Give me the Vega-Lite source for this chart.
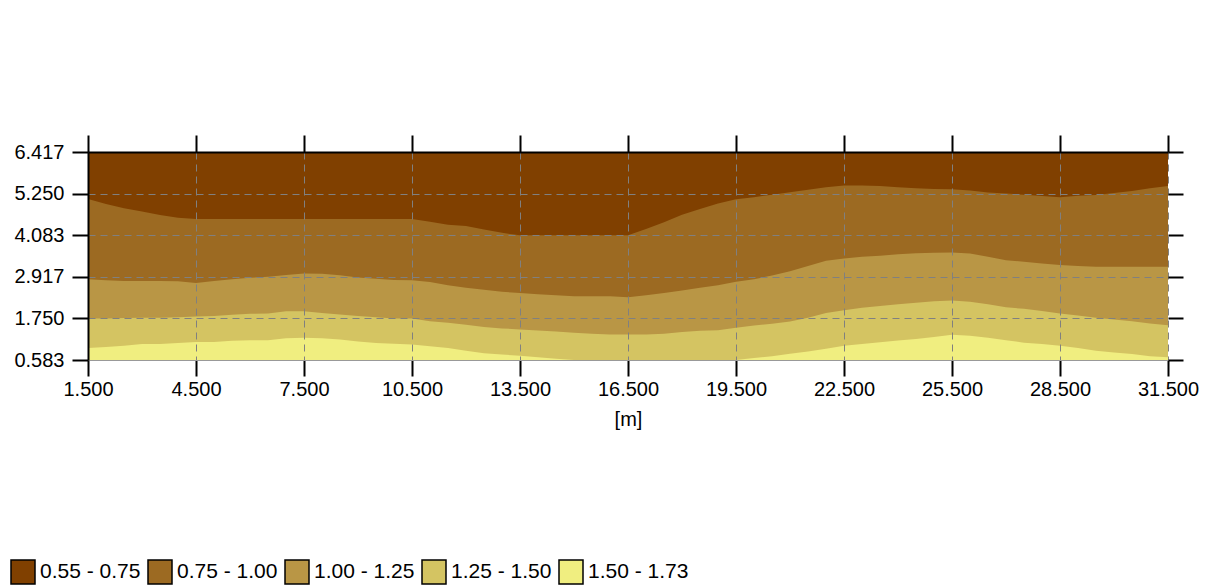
{
  "$schema": "https://vega.github.io/schema/vega-lite/v6.json",
  "width": 1080,
  "height": 208,
  "autosize": {"type": "none"},
  "padding": {"left": 88, "top": 152, "right": 40, "bottom": 227},
  "background": "white",
  "config": {
    "view": {"stroke": null},
    "font": "Liberation Sans",
    "axis": {"labelFont": "Liberation Sans", "titleFont": "Liberation Sans"}
  },
  "data": {
    "values": [
      {"x": 1.5, "b1": 5.10, "b2": 2.85, "b3": 1.75, "b4": 0.92},
      {"x": 2.0, "b1": 4.96, "b2": 2.82, "b3": 1.75, "b4": 0.95},
      {"x": 2.5, "b1": 4.84, "b2": 2.80, "b3": 1.76, "b4": 0.98},
      {"x": 3.0, "b1": 4.75, "b2": 2.80, "b3": 1.77, "b4": 1.03},
      {"x": 3.5, "b1": 4.65, "b2": 2.80, "b3": 1.77, "b4": 1.03},
      {"x": 4.0, "b1": 4.57, "b2": 2.79, "b3": 1.78, "b4": 1.06},
      {"x": 4.5, "b1": 4.54, "b2": 2.74, "b3": 1.80, "b4": 1.09},
      {"x": 5.0, "b1": 4.54, "b2": 2.80, "b3": 1.82, "b4": 1.09},
      {"x": 5.5, "b1": 4.54, "b2": 2.85, "b3": 1.85, "b4": 1.12},
      {"x": 6.0, "b1": 4.54, "b2": 2.89, "b3": 1.88, "b4": 1.14},
      {"x": 6.5, "b1": 4.54, "b2": 2.92, "b3": 1.89, "b4": 1.14},
      {"x": 7.0, "b1": 4.54, "b2": 2.97, "b3": 1.95, "b4": 1.19},
      {"x": 7.5, "b1": 4.54, "b2": 3.01, "b3": 1.95, "b4": 1.21},
      {"x": 8.0, "b1": 4.54, "b2": 3.00, "b3": 1.90, "b4": 1.19},
      {"x": 8.5, "b1": 4.54, "b2": 2.96, "b3": 1.86, "b4": 1.16},
      {"x": 9.0, "b1": 4.54, "b2": 2.90, "b3": 1.82, "b4": 1.10},
      {"x": 9.5, "b1": 4.54, "b2": 2.86, "b3": 1.78, "b4": 1.06},
      {"x": 10.0, "b1": 4.54, "b2": 2.83, "b3": 1.75, "b4": 1.04},
      {"x": 10.5, "b1": 4.54, "b2": 2.82, "b3": 1.75, "b4": 1.02},
      {"x": 11.0, "b1": 4.46, "b2": 2.77, "b3": 1.67, "b4": 0.97},
      {"x": 11.5, "b1": 4.38, "b2": 2.68, "b3": 1.63, "b4": 0.92},
      {"x": 12.0, "b1": 4.34, "b2": 2.61, "b3": 1.57, "b4": 0.84},
      {"x": 12.5, "b1": 4.24, "b2": 2.55, "b3": 1.51, "b4": 0.77},
      {"x": 13.0, "b1": 4.15, "b2": 2.50, "b3": 1.47, "b4": 0.74},
      {"x": 13.5, "b1": 4.08, "b2": 2.46, "b3": 1.44, "b4": 0.70},
      {"x": 14.0, "b1": 4.08, "b2": 2.43, "b3": 1.41, "b4": 0.66},
      {"x": 14.5, "b1": 4.08, "b2": 2.40, "b3": 1.38, "b4": 0.62},
      {"x": 15.0, "b1": 4.08, "b2": 2.37, "b3": 1.35, "b4": 0.583},
      {"x": 15.5, "b1": 4.08, "b2": 2.37, "b3": 1.32, "b4": 0.583},
      {"x": 16.0, "b1": 4.08, "b2": 2.37, "b3": 1.30, "b4": 0.583},
      {"x": 16.5, "b1": 4.08, "b2": 2.34, "b3": 1.30, "b4": 0.583},
      {"x": 17.0, "b1": 4.26, "b2": 2.40, "b3": 1.30, "b4": 0.583},
      {"x": 17.5, "b1": 4.45, "b2": 2.46, "b3": 1.32, "b4": 0.583},
      {"x": 18.0, "b1": 4.66, "b2": 2.53, "b3": 1.37, "b4": 0.583},
      {"x": 18.5, "b1": 4.82, "b2": 2.61, "b3": 1.40, "b4": 0.583},
      {"x": 19.0, "b1": 4.97, "b2": 2.68, "b3": 1.42, "b4": 0.583},
      {"x": 19.5, "b1": 5.09, "b2": 2.78, "b3": 1.49, "b4": 0.583},
      {"x": 20.0, "b1": 5.15, "b2": 2.85, "b3": 1.55, "b4": 0.64},
      {"x": 20.5, "b1": 5.22, "b2": 2.95, "b3": 1.60, "b4": 0.69},
      {"x": 21.0, "b1": 5.29, "b2": 3.07, "b3": 1.66, "b4": 0.76},
      {"x": 21.5, "b1": 5.36, "b2": 3.22, "b3": 1.77, "b4": 0.82},
      {"x": 22.0, "b1": 5.43, "b2": 3.37, "b3": 1.90, "b4": 0.90},
      {"x": 22.5, "b1": 5.48, "b2": 3.43, "b3": 1.98, "b4": 0.98},
      {"x": 23.0, "b1": 5.48, "b2": 3.48, "b3": 2.05, "b4": 1.03},
      {"x": 23.5, "b1": 5.46, "b2": 3.51, "b3": 2.10, "b4": 1.08},
      {"x": 24.0, "b1": 5.43, "b2": 3.55, "b3": 2.15, "b4": 1.13},
      {"x": 24.5, "b1": 5.40, "b2": 3.58, "b3": 2.19, "b4": 1.17},
      {"x": 25.0, "b1": 5.38, "b2": 3.59, "b3": 2.23, "b4": 1.23},
      {"x": 25.5, "b1": 5.37, "b2": 3.60, "b3": 2.25, "b4": 1.29},
      {"x": 26.0, "b1": 5.34, "b2": 3.57, "b3": 2.22, "b4": 1.26},
      {"x": 26.5, "b1": 5.28, "b2": 3.48, "b3": 2.15, "b4": 1.21},
      {"x": 27.0, "b1": 5.25, "b2": 3.38, "b3": 2.06, "b4": 1.14},
      {"x": 27.5, "b1": 5.22, "b2": 3.34, "b3": 2.02, "b4": 1.07},
      {"x": 28.0, "b1": 5.18, "b2": 3.29, "b3": 1.96, "b4": 1.03},
      {"x": 28.5, "b1": 5.15, "b2": 3.25, "b3": 1.89, "b4": 0.98},
      {"x": 29.0, "b1": 5.19, "b2": 3.22, "b3": 1.83, "b4": 0.92},
      {"x": 29.5, "b1": 5.21, "b2": 3.20, "b3": 1.77, "b4": 0.84},
      {"x": 30.0, "b1": 5.27, "b2": 3.20, "b3": 1.72, "b4": 0.79},
      {"x": 30.5, "b1": 5.32, "b2": 3.20, "b3": 1.67, "b4": 0.75},
      {"x": 31.0, "b1": 5.40, "b2": 3.20, "b3": 1.61, "b4": 0.69},
      {"x": 31.5, "b1": 5.46, "b2": 3.20, "b3": 1.56, "b4": 0.66}
    ]
  },
  "layer": [
    {
      "mark": {"type": "area", "interpolate": "linear", "opacity": 1},
      "encoding": {
        "x": {
          "field": "x", "type": "quantitative",
          "scale": {"domain": [1.5, 31.5], "nice": false, "zero": false},
          "axis": {
            "orient": "bottom",
            "values": [1.5, 4.5, 7.5, 10.5, 13.5, 16.5, 19.5, 22.5, 25.5, 28.5, 31.5],
            "format": ".3f",
            "title": "[m]",
            "titleFontSize": 20,
            "titleFontWeight": "normal",
            "titleColor": "black",
            "titlePadding": 10,
            "labelFontSize": 20,
            "labelColor": "black",
            "labelPadding": 3,
            "labelFlush": false,
            "tickSize": 16,
            "tickColor": "black",
            "tickWidth": 2,
            "domainColor": "#999999",
            "domainWidth": 1,
            "grid": true,
            "gridColor": "#808080",
            "gridDash": [7, 5],
            "gridWidth": 1,
            "zindex": 1
          }
        },
        "y": {
          "datum": 0.583, "type": "quantitative",
          "scale": {"domain": [0.583, 6.417], "nice": false, "zero": false},
          "axis": {
            "orient": "left",
            "values": [0.583, 1.75, 2.917, 4.083, 5.25, 6.417],
            "format": ".3f",
            "title": null,
            "labelFontSize": 20,
            "labelColor": "black",
            "labelPadding": 8,
            "labelFlush": false,
            "tickSize": 16,
            "tickColor": "black",
            "tickWidth": 2,
            "domainColor": "black",
            "domainWidth": 2,
            "grid": true,
            "gridColor": "#808080",
            "gridDash": [7, 5],
            "gridWidth": 1,
            "zindex": 1
          }
        },
        "y2": {"datum": 6.417},
        "color": {
          "datum": "1.50 - 1.73", "type": "nominal",
          "scale": {
            "domain": ["0.55 - 0.75", "0.75 - 1.00", "1.00 - 1.25", "1.25 - 1.50", "1.50 - 1.73"],
            "range": ["#804000", "#9c6a22", "#b99645", "#d4c462", "#f0ee80"]
          },
          "legend": {
            "orient": "none",
            "legendX": -78,
            "legendY": 407,
            "direction": "horizontal",
            "title": null,
            "symbolType": "square",
            "symbolSize": 576,
            "symbolStrokeColor": "black",
            "symbolStrokeWidth": 1.5,
            "symbolOpacity": 1,
            "labelFontSize": 21,
            "labelColor": "black",
            "labelFont": "Liberation Sans",
            "labelOffset": 4,
            "columnPadding": 4,
            "padding": 0
          }
        }
      }
    },
    {
      "mark": {"type": "area", "interpolate": "linear", "opacity": 1},
      "encoding": {
        "x": {"field": "x", "type": "quantitative", "axis": null},
        "y": {"field": "b4", "type": "quantitative", "axis": null},
        "y2": {"datum": 6.417},
        "color": {"datum": "1.25 - 1.50", "type": "nominal"}
      }
    },
    {
      "mark": {"type": "area", "interpolate": "linear", "opacity": 1},
      "encoding": {
        "x": {"field": "x", "type": "quantitative", "axis": null},
        "y": {"field": "b3", "type": "quantitative", "axis": null},
        "y2": {"datum": 6.417},
        "color": {"datum": "1.00 - 1.25", "type": "nominal"}
      }
    },
    {
      "mark": {"type": "area", "interpolate": "linear", "opacity": 1},
      "encoding": {
        "x": {"field": "x", "type": "quantitative", "axis": null},
        "y": {"field": "b2", "type": "quantitative", "axis": null},
        "y2": {"datum": 6.417},
        "color": {"datum": "0.75 - 1.00", "type": "nominal"}
      }
    },
    {
      "mark": {"type": "area", "interpolate": "linear", "opacity": 1},
      "encoding": {
        "x": {
          "field": "x", "type": "quantitative",
          "axis": {
            "orient": "top",
            "values": [1.5, 4.5, 7.5, 10.5, 13.5, 16.5, 19.5, 22.5, 25.5, 28.5, 31.5],
            "labels": false,
            "title": null,
            "grid": false,
            "tickSize": 17,
            "tickColor": "black",
            "tickWidth": 2,
            "domainColor": "black",
            "domainWidth": 2,
            "zindex": 1
          }
        },
        "y": {
          "field": "b1", "type": "quantitative",
          "axis": {
            "orient": "right",
            "values": [0.583, 1.75, 2.917, 4.083, 5.25, 6.417],
            "labels": false,
            "title": null,
            "grid": false,
            "domain": false,
            "tickSize": 15,
            "tickColor": "black",
            "tickWidth": 2,
            "zindex": 1
          }
        },
        "y2": {"datum": 6.417},
        "color": {"datum": "0.55 - 0.75", "type": "nominal"}
      }
    }
  ]
}
